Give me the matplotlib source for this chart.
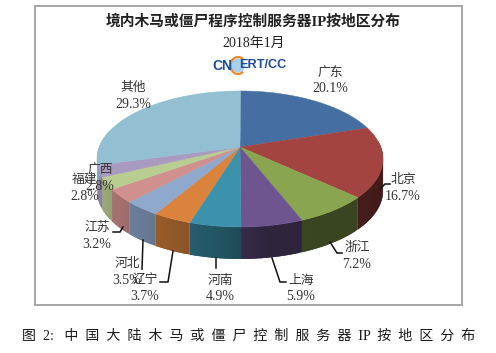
"""Pie of trojan/botnet control servers by region, 2018-01."""

import matplotlib

matplotlib.use("Agg")

import matplotlib.pyplot as plt
import numpy as np
from matplotlib.patches import Arc, Circle, Polygon, Rectangle

REGIONS = ["广东", "北京", "浙江", "上海", "河南", "辽宁", "河北", "江苏", "福建", "广西", "其他"]
SHARES = [20.1, 16.7, 7.2, 5.9, 4.9, 3.7, 3.5, 3.2, 2.8, 2.8, 29.3]
COLORS = ["#456fa3", "#a44441", "#8aa550", "#6e5590", "#3d92ab", "#da833c",
          "#8fa8ce", "#cf908e", "#b8cd90", "#a99bc0", "#92bfd2"]

TITLE = "境内木马或僵尸程序控制服务器IP按地区分布"
SUBTITLE = "2018年1月"
CAPTION_HEAD = "图  2:   "
CAPTION_BODY = "中国大陆木马或僵尸控制服务器"
CAPTION_TAIL = "按地区分布"

# label centres in pixels, same order as REGIONS
LABEL_XY = [(330, 73), (403, 180), (357, 248), (301, 281), (220, 281), (145, 281),
            (127, 264), (97, 228), (85, 180), (100, 170), (133, 88)]
LEADERS = [
    [(380, 189), (385, 184), (390, 184)],
    [(330, 242), (337, 253), (342, 253)],
    [(272, 258), (280, 282), (286, 282)],
    [(216, 258), (216, 268)],
    [(173, 251), (168, 282), (160, 282)],
    [(143, 240), (142, 269)],
    [(123, 227), (120, 232), (113, 232)],
]

CX, CY = 240, 147
A, B, P = 140.8, 65.9, 0.176
DEPTH = 32
SANS = ["Liberation Serif", "Noto Sans CJK SC"]


def rim(theta):
    s, c = np.sin(theta), np.cos(theta)
    w = 1 + P * c
    return CX + A * s / w, CY - B * c / w


def shade(theta):
    return np.interp(np.degrees(theta), [90, 170, 190, 210, 235, 260], [0.40, 0.42, 0.60, 0.70, 0.80, 0.88])


def main():
    fig = plt.figure(figsize=(4.96, 3.53), dpi=100)
    ax = fig.add_axes([0, 0, 1, 1])
    ax.set_xlim(0, 496)
    ax.set_ylim(353, 0)
    ax.axis("off")

    ax.add_patch(Rectangle((34.5, 6), 427.5, 299, fc="white", ec="#a6a6a6", lw=1.4))

    edges = np.radians(np.concatenate([[0], np.cumsum(SHARES)]) * 3.6)

    # side walls first, strips overlap the next one so no seams show
    for start, stop, color in zip(edges[:-1], edges[1:], COLORS):
        base = np.array(matplotlib.colors.to_rgb(color))
        lo, hi = max(start, np.radians(85)), min(stop, np.radians(285))
        if hi <= lo:
            continue
        steps = np.linspace(lo, hi, max(int((hi - lo) * 40), 2) + 1)
        for t0, t1 in zip(steps[:-1], steps[1:]):
            xs, ys = rim(np.linspace(t0, min(t1 + (t1 - t0), hi), 8))
            pts = np.column_stack([np.r_[xs, xs[::-1]], np.r_[ys, ys[::-1] + DEPTH]])
            ax.add_patch(Polygon(pts, closed=True, fc=base * shade((t0 + t1) / 2), ec="none"))

    for start, stop, color in zip(edges[:-1], edges[1:], COLORS):
        xs, ys = rim(np.linspace(start, stop, 80))
        pts = np.column_stack([np.r_[CX, xs], np.r_[CY, ys]])
        ax.add_patch(Polygon(pts, closed=True, fc=color, ec=color, lw=0.3))

    for line in LEADERS:
        xs, ys = zip(*line)
        ax.plot(xs, ys, color="#111111", lw=1.1, solid_joinstyle="miter")

    for region, share, (x, y) in zip(REGIONS, SHARES, LABEL_XY):
        ax.text(x, y, region, ha="center", va="center", fontsize=9.2, color="#333333", family=SANS)
        ax.text(x, y + 16, f"{share:.1f}%", ha="center", va="center", fontsize=10, color="#333333", family=SANS)

    ax.text(253.5, 21, TITLE, ha="center", va="center", fontsize=10.6, fontweight="bold", color="#222222", family=SANS)
    ax.text(253.5, 43, SUBTITLE, ha="center", va="center", fontsize=10, color="#222222", family=SANS)

    logo = ["Liberation Sans Narrow", "Liberation Sans"]
    ax.add_patch(Circle((238, 65.5), 7, fc="#a9d0ea", ec="none"))
    ax.add_patch(Arc((238, 65.5), 15, 17, theta1=50, theta2=310, ec="#e8892a", lw=1.6))
    ax.text(222.5, 65.5, "CN", ha="center", va="center", fontsize=10, fontweight="bold", color="#1d4c96", family=logo)
    ax.text(263, 65.5, "ERT/CC", ha="center", va="center", fontsize=9.2, fontweight="bold", color="#1d4c96", family=logo)

    caption = CAPTION_HEAD + "  ".join(CAPTION_BODY) + "  IP  " + "  ".join(CAPTION_TAIL)
    ax.text(249, 336, caption, ha="center", va="center", fontsize=10.1, color="#1a1a1a", family=SANS)

    fig.savefig("out.png", dpi=100)
    plt.close(fig)


if __name__ == "__main__":
    main()
